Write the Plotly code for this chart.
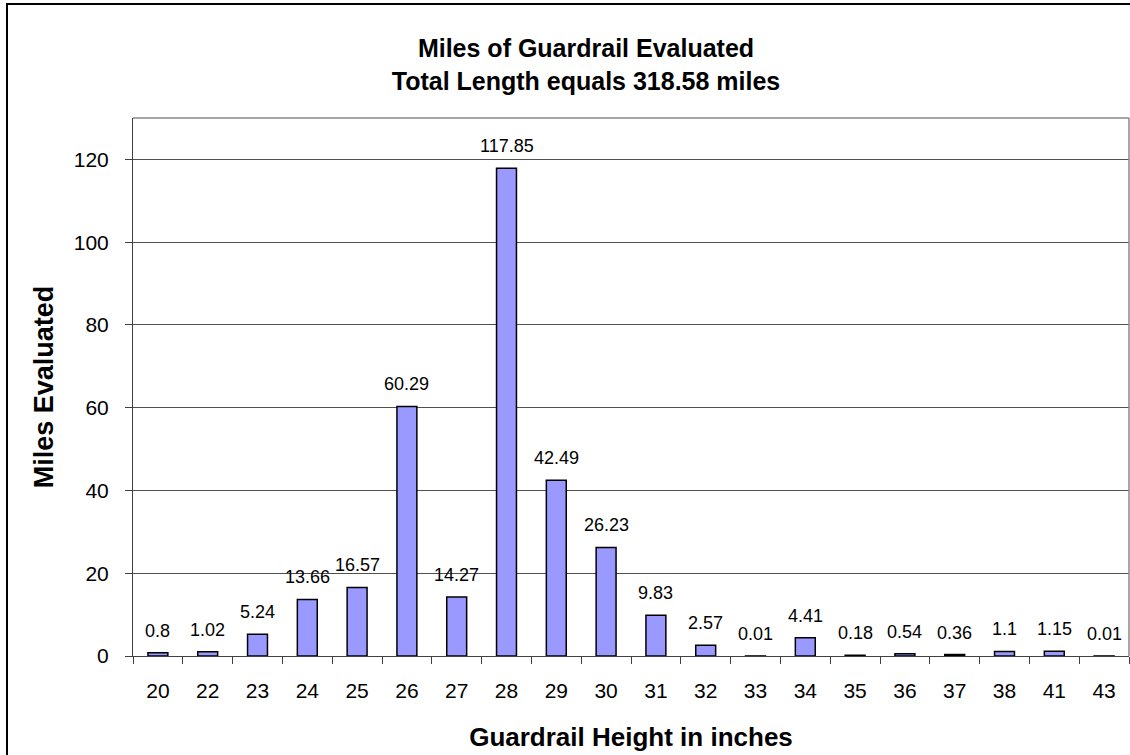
import plotly.graph_objects as go

heights = ["20", "22", "23", "24", "25", "26", "27", "28", "29", "30",
           "31", "32", "33", "34", "35", "36", "37", "38", "41", "43"]
miles = [0.8, 1.02, 5.24, 13.66, 16.57, 60.29, 14.27, 117.85, 42.49, 26.23,
         9.83, 2.57, 0.01, 4.41, 0.18, 0.54, 0.36, 1.1, 1.15, 0.01]
y_ticks = [0, 20, 40, 60, 80, 100, 120]

FONT = "Liberation Sans, Arial, sans-serif"

fig = go.Figure()
fig.add_trace(go.Bar(
    x=heights, y=miles,
    marker=dict(color="#9999FF", line=dict(color="black", width=1.5)),
    hoverinfo="x+y",
))

for i, m in enumerate(miles):
    fig.add_annotation(x=i, y=m, text=str(m), showarrow=False,
                       xref="x", yref="y",
                       yanchor="bottom", yshift=10,
                       font=dict(family=FONT, size=18, color="black"))

W, H = 1130, 755
L, R, T, B = 133, 1, 118, 99
pw, ph = W - L - R, H - T - B

def px(x):
    return (x - L) / pw

def py(y):
    return (H - B - y) / ph

# outer frame (cropped on the right and bottom like the reference)
fig.add_shape(type="rect", xref="paper", yref="paper",
              x0=px(7), x1=px(1140), y0=py(765), y1=py(4),
              line=dict(color="black", width=2), layer="above")

fig.update_layout(
    width=W, height=H,
    margin=dict(l=L, r=R, t=T, b=B, pad=0, autoexpand=False),
    paper_bgcolor="white", plot_bgcolor="white",
    bargap=0.6,
    showlegend=False,
    font=dict(family=FONT, color="black"),
    title=dict(
        text="<b>Miles of Guardrail Evaluated</b><br><b>Total Length equals 318.58 miles</b>",
        font=dict(family=FONT, size=25, color="black"),
        x=586 / W, xanchor="center", xref="container",
        y=1 - 57 / H, yanchor="top", yref="container",
    ),
    xaxis=dict(
        type="category",
        range=[-0.5, len(heights) - 0.5],
        automargin=False,
        title=dict(text="<b>Guardrail Height in inches</b>",
                   font=dict(family=FONT, size=26, color="black"), standoff=26),
        tickfont=dict(family=FONT, size=21, color="black"),
        tickangle=0,
        ticks="outside", ticklen=7, tickcolor="#404040", tickwidth=1,
        tickson="boundaries",
        ticklabelstandoff=16,
        showline=True, linecolor="#404040", linewidth=1, mirror=False,
        showgrid=False,
    ),
    yaxis=dict(
        range=[0, 130],
        automargin=False,
        tickvals=y_ticks,
        title=dict(text="<b>Miles Evaluated</b>",
                   font=dict(family=FONT, size=27, color="black"), standoff=12),
        tickfont=dict(family=FONT, size=21, color="black"),
        ticks="outside", ticklen=7, tickcolor="#404040", tickwidth=1,
        ticklabelstandoff=12,
        showline=True, linecolor="#404040", linewidth=1,
        showgrid=True, gridcolor="#505050", gridwidth=1,
        zeroline=False,
    ),
)

# plot area border: top and right in grey
fig.add_shape(type="line", xref="paper", yref="paper", x0=0, x1=1, y0=1, y1=1,
              line=dict(color="#888888", width=1.5), layer="above")
fig.add_shape(type="line", xref="paper", yref="paper", x0=1, x1=1, y0=0, y1=1,
              line=dict(color="#888888", width=1.5), layer="above")

fig.write_html("out.html",
               config={"displayModeBar": False},
               post_script="document.body.style.margin='0';document.body.style.overflow='hidden';")
